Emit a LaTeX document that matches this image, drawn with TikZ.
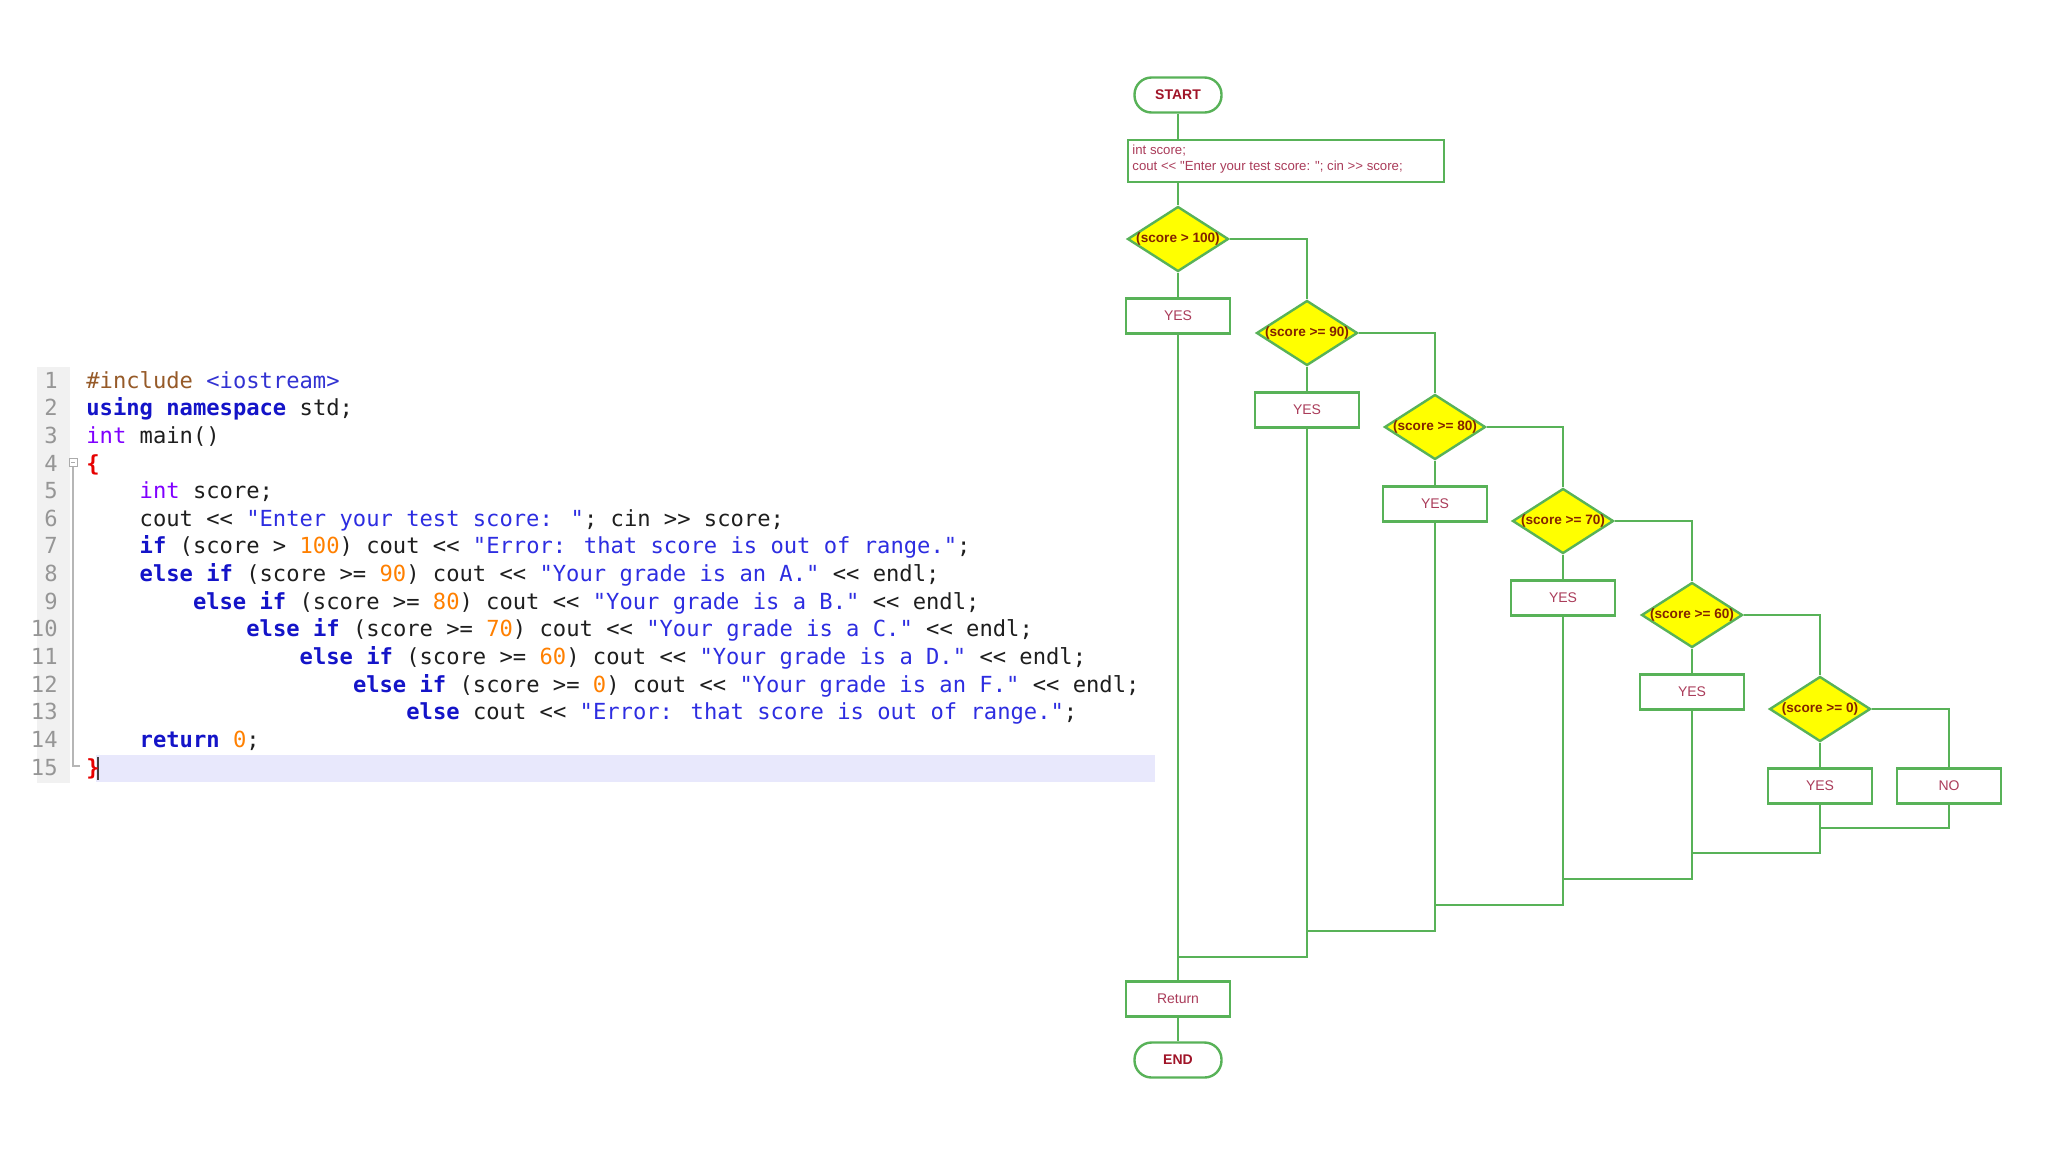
\documentclass[tikz,border=0pt]{standalone}
\usepackage{fontspec}
\setmainfont{Liberation Sans}[Ligatures=TeXOff]
\newfontfamily\codefont{DejaVu Sans Mono}[Ligatures=TeXOff]
\usetikzlibrary{shapes.geometric}
\definecolor{flowgreen}{RGB}{88,178,88}
\definecolor{diayellow}{RGB}{255,255,0}
\definecolor{diatext}{RGB}{130,35,0}
\definecolor{termred}{RGB}{160,20,40}
\definecolor{boxtext}{RGB}{170,60,90}
\definecolor{codetext}{RGB}{30,30,30}
\definecolor{kwblue}{RGB}{20,20,200}
\definecolor{strblue}{RGB}{45,45,225}
\definecolor{typurple}{RGB}{128,0,255}
\definecolor{numorange}{RGB}{255,128,0}
\definecolor{prebrown}{RGB}{150,90,40}
\definecolor{incblue}{RGB}{50,50,210}
\definecolor{bracered}{RGB}{230,0,0}
\definecolor{lngray}{RGB}{150,150,150}
\definecolor{guttergray}{RGB}{241,241,241}
\definecolor{hlline}{RGB}{232,232,252}
\newcommand\cKw[1]{\textcolor{kwblue}{\bfseries #1}}
\newcommand\cTy[1]{\textcolor{typurple}{#1}}
\newcommand\cStr[1]{\textcolor{strblue}{#1}}
\newcommand\cNum[1]{\textcolor{numorange}{#1}}
\newcommand\cPre[1]{\textcolor{prebrown}{#1}}
\newcommand\cInc[1]{\textcolor{incblue}{#1}}
\newcommand\cBr[1]{\textcolor{bracered}{\bfseries #1}}
\begin{document}
\begin{tikzpicture}[x=0.5pt,y=-0.5pt,
  term/.style={draw=flowgreen, line width=1.2pt, fill=white, rounded corners=8.5pt,
    minimum width=43.5pt, minimum height=17.5pt, inner sep=0pt,
    font=\fontsize{7}{8}\selectfont\bfseries, text=termred},
  fbox/.style={draw=flowgreen, line width=1.2pt, fill=white, minimum width=52pt,
    minimum height=17.5pt, inner sep=0pt, font=\fontsize{7}{8}\selectfont, text=boxtext},
  dia/.style={diamond, draw=flowgreen, line width=1.2pt, fill=diayellow,
    minimum width=50.5pt, minimum height=32.5pt, inner sep=0pt},
  dtext/.style={font=\fontsize{6.8}{8}\selectfont\bfseries, text=diatext, inner sep=0pt},
  wire/.style={draw=flowgreen, line width=1.3pt},
  codeline/.style={anchor=base west, inner sep=0pt,
    font=\codefont\fontsize{11.07}{13}\selectfont, text=codetext},
  lnum/.style={anchor=base east, inner sep=0pt,
    font=\codefont\fontsize{11.07}{13}\selectfont, text=lngray}]
\useasboundingbox (0,0) rectangle (2048,1152);
\fill[white] (0,0) rectangle (2048,1152);

% ---------- code panel ----------
\fill[guttergray] (37,367) rectangle (70,783);
\fill[hlline] (96,755) rectangle (1155,782);
\draw[lngray!80, line width=0.5pt, fill=white] (69,458) rectangle (77,466);
\draw[lngray!80, line width=0.5pt] (71,462) -- (75,462);
\draw[lngray!70, line width=0.6pt] (73,467) -- (73,766) -- (80,766);
\draw[black!75, line width=0.8pt] (98,757) -- (98,780);

\node[lnum] (n1) at (58,388) {1};
\node[lnum] (n2) at (58,415.7) {2};
\node[lnum] (n3) at (58,443.3) {3};
\node[lnum] (n4) at (58,471) {4};
\node[lnum] (n5) at (58,498.6) {5};
\node[lnum] (n6) at (58,526.3) {6};
\node[lnum] (n7) at (58,553.9) {7};
\node[lnum] (n8) at (58,581.6) {8};
\node[lnum] (n9) at (58,609.2) {9};
\node[lnum] (n10) at (58,636.9) {10};
\node[lnum] (n11) at (58,664.5) {11};
\node[lnum] (n12) at (58,692.2) {12};
\node[lnum] (n13) at (58,719.8) {13};
\node[lnum] (n14) at (58,747.5) {14};
\node[lnum] (n15) at (58,775.1) {15};

\node[codeline] (c1) at (86,388) {\cPre{\#include} \cInc{<iostream>}};
\node[codeline] (c2) at (86,415.7) {\cKw{using namespace} std;};
\node[codeline] (c3) at (86,443.3) {\cTy{int} main()};
\node[codeline] (c4) at (86,471) {\cBr{\{}};
\node[codeline] (c5) at (139.3,498.6) {\cTy{int} score;};
\node[codeline] (c6) at (139.3,526.3) {cout << \cStr{"Enter your test score: "}; cin >> score;};
\node[codeline] (c7) at (139.3,553.9) {\cKw{if} (score > \cNum{100}) cout << \cStr{"Error: that score is out of range."};};
\node[codeline] (c8) at (139.3,581.6) {\cKw{else if} (score >= \cNum{90}) cout << \cStr{"Your grade is an A."} << endl;};
\node[codeline] (c9) at (192.6,609.2) {\cKw{else if} (score >= \cNum{80}) cout << \cStr{"Your grade is a B."} << endl;};
\node[codeline] (c10) at (246,636.9) {\cKw{else if} (score >= \cNum{70}) cout << \cStr{"Your grade is a C."} << endl;};
\node[codeline] (c11) at (299.3,664.5) {\cKw{else if} (score >= \cNum{60}) cout << \cStr{"Your grade is a D."} << endl;};
\node[codeline] (c12) at (352.6,692.2) {\cKw{else if} (score >= \cNum{0}) cout << \cStr{"Your grade is an F."} << endl;};
\node[codeline] (c13) at (406,719.8) {\cKw{else} cout << \cStr{"Error: that score is out of range."};};
\node[codeline] (c14) at (139.3,747.5) {\cKw{return} \cNum{0};};
\node[codeline] (c15) at (86,775.1) {\cBr{\}}};

% ---------- flowchart ----------
\node[term] (start) at (1178,95) {START};
\node[fbox, minimum width=158pt, minimum height=21pt, anchor=north west] (inp) at (1127,139) {};
\node[anchor=west, align=left, inner sep=0pt, font=\fontsize{6.6}{8.4}\selectfont, text=boxtext] (inptext) at (1132,159)
  {int score;\\cout << "Enter your test score: "; cin >> score;};

\node[dia] (d1) at (1178,239) {};
\node[dia] (d2) at (1307,333) {};
\node[dia] (d3) at (1435,427) {};
\node[dia] (d4) at (1563,521) {};
\node[dia] (d5) at (1692,615) {};
\node[dia] (d6) at (1820,709) {};
\node[dtext] (t1) at (d1) {(score > 100)};
\node[dtext] (t2) at (d2) {(score >= 90)};
\node[dtext] (t3) at (d3) {(score >= 80)};
\node[dtext] (t4) at (d4) {(score >= 70)};
\node[dtext] (t5) at (d5) {(score >= 60)};
\node[dtext] (t6) at (d6) {(score >= 0)};

\node[fbox] (y1) at (1178,316) {YES};
\node[fbox] (y2) at (1307,410) {YES};
\node[fbox] (y3) at (1435,504) {YES};
\node[fbox] (y4) at (1563,598) {YES};
\node[fbox] (y5) at (1692,692) {YES};
\node[fbox] (y6) at (1820,786) {YES};
\node[fbox] (no) at (1949,786) {NO};

\node[fbox] (ret) at (1178,999) {Return};
\node[term] (end) at (1178,1060) {END};

\coordinate (j6) at (1820,828);
\coordinate (j5) at (1692,853);
\coordinate (j4) at (1563,879);
\coordinate (j3) at (1435,905);
\coordinate (j2) at (1307,931);
\coordinate (j1) at (1178,957);

\draw[wire] (start.south) -- (start.south |- inp.north);
\draw[wire] (d1.north |- inp.south) -- (d1.north);
\draw[wire] (d1.south) -- (y1.north);
\draw[wire] (d2.south) -- (y2.north);
\draw[wire] (d3.south) -- (y3.north);
\draw[wire] (d4.south) -- (y4.north);
\draw[wire] (d5.south) -- (y5.north);
\draw[wire] (d6.south) -- (y6.north);
\draw[wire] (d1.east) -| (d2.north);
\draw[wire] (d2.east) -| (d3.north);
\draw[wire] (d3.east) -| (d4.north);
\draw[wire] (d4.east) -| (d5.north);
\draw[wire] (d5.east) -| (d6.north);
\draw[wire] (d6.east) -| (no.north);
\draw[wire] (no.south) |- (j6);
\draw[wire] (y6.south) |- (j5);
\draw[wire] (y5.south) |- (j4);
\draw[wire] (y4.south) |- (j3);
\draw[wire] (y3.south) |- (j2);
\draw[wire] (y2.south) |- (j1);
\draw[wire] (y1.south) -- (ret.north);
\draw[wire] (ret.south) -- (end.north);
\end{tikzpicture}
\end{document}
